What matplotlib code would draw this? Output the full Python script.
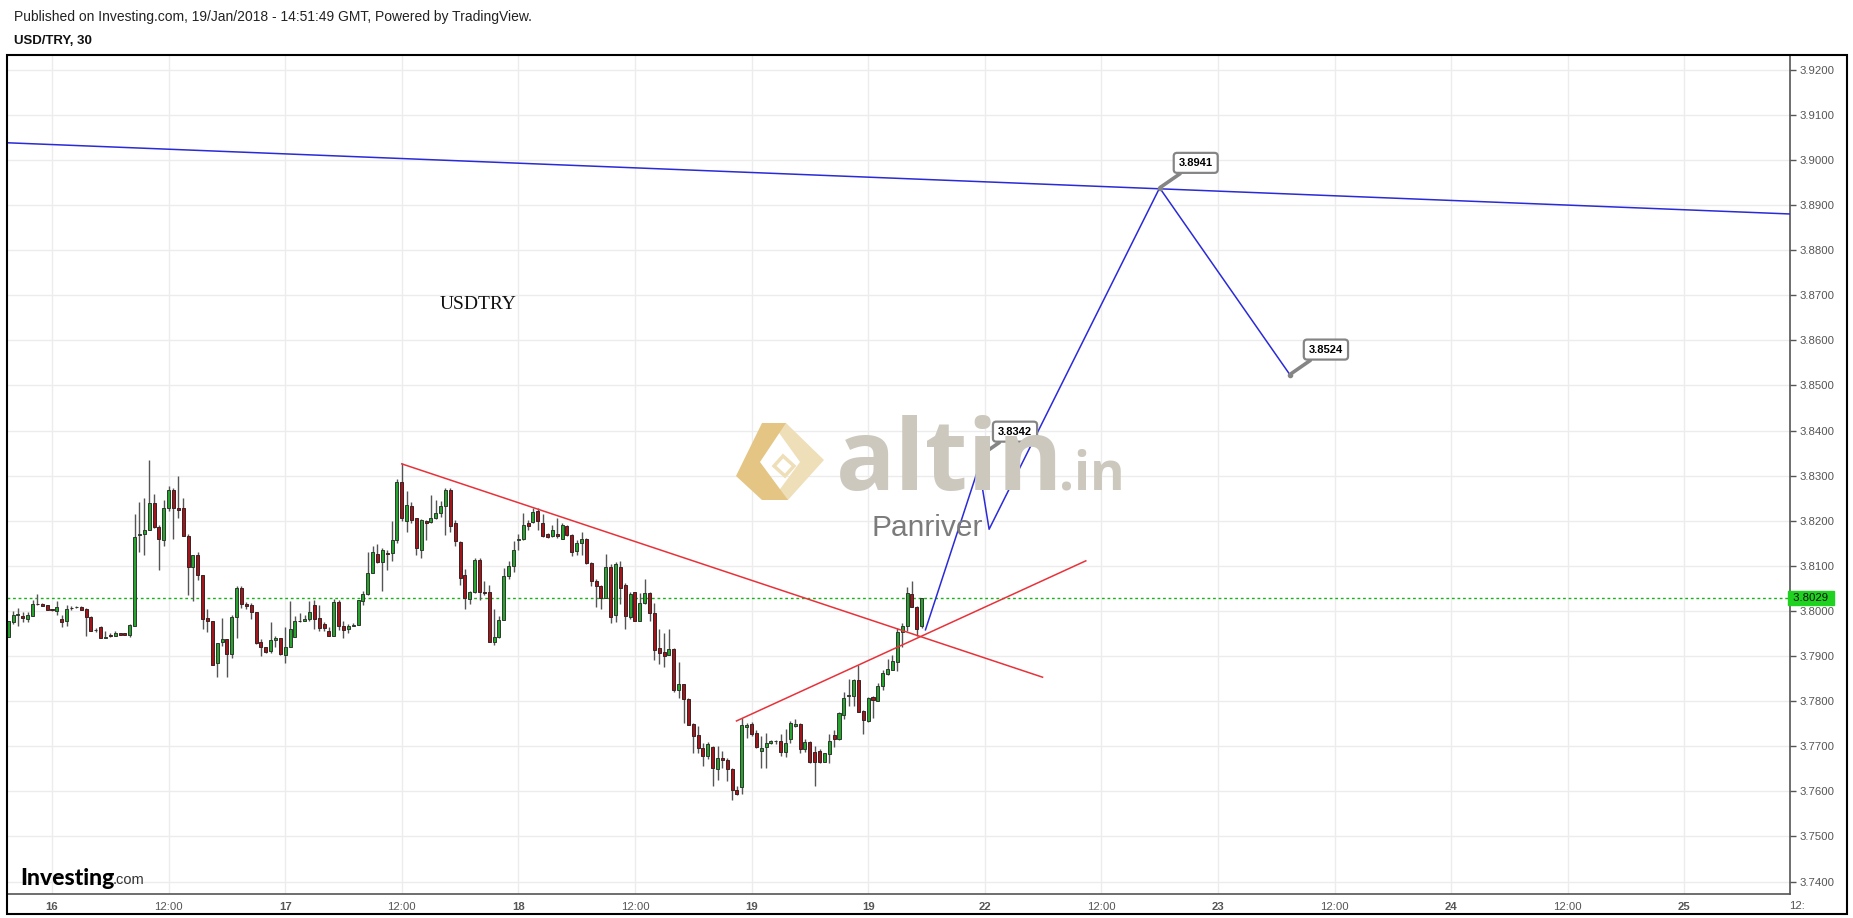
import matplotlib
matplotlib.use("Agg")
import matplotlib.pyplot as plt
from matplotlib.patches import Rectangle, Polygon
import numpy as np

W, H = 1853, 918

# ---------------- data ----------------
start_index = -9  # first bar (30-min bars, index 0 = Jan 16 00:00)
opens = [3.7942, 3.7975, 3.7991, 3.7988, 3.7983, 3.7988, 3.8016, 3.8015, 3.8013, 3.8004,
         3.7999, 3.7983, 3.7977, 3.8007, 3.8008, 3.8008, 3.8004, 3.7986, 3.7957, 3.7964,
         3.7941, 3.7946, 3.7944, 3.7951, 3.7951, 3.7946, 3.7966, 3.8168, 3.8171, 3.8180,
         3.8240, 3.8186, 3.8157, 3.8228, 3.8269, 3.8229, 3.8229, 3.8167, 3.8097, 3.8125,
         3.8080, 3.7984, 3.7977, 3.7885, 3.7931, 3.7938, 3.7905, 3.7987, 3.8051, 3.8016,
         3.8012, 3.7998, 3.7931, 3.7920, 3.7911, 3.7935, 3.7941, 3.7903, 3.7920, 3.7942,
         3.7978, 3.7977, 3.7981, 3.8014, 3.7984, 3.7970, 3.7956, 3.7944, 3.8020, 3.7967,
         3.7959, 3.7967, 3.7968, 3.8021, 3.8038, 3.8084, 3.8127, 3.8108, 3.8128, 3.8129,
         3.8158, 3.8286, 3.8199, 3.8233, 3.8206, 3.8136, 3.8200, 3.8197, 3.8206, 3.8217,
         3.8232, 3.8269, 3.8195, 3.8152, 3.8080, 3.8027, 3.8041, 3.8112, 3.8042, 3.8041,
         3.7931, 3.7942, 3.7980, 3.8078, 3.8100, 3.8158, 3.8160, 3.8194, 3.8197, 3.8221,
         3.8194, 3.8171, 3.8165, 3.8171, 3.8160, 3.8189, 3.8169, 3.8132, 3.8151, 3.8160,
         3.8106, 3.8067, 3.8055, 3.8029, 3.8097, 3.7992, 3.8097, 3.8057, 3.7987, 3.8042,
         3.7977, 3.8018, 3.8040, 3.7996, 3.7918, 3.7908, 3.7902, 3.7916, 3.7824, 3.7837,
         3.7805, 3.7749, 3.7724, 3.7696, 3.7678, 3.7699, 3.7650, 3.7674, 3.7669, 3.7650,
         3.7602, 3.7610, 3.7743, 3.7750, 3.7729, 3.7689, 3.7698, 3.7707, 3.7711, 3.7711,
         3.7687, 3.7715, 3.7744, 3.7750, 3.7694, 3.7710, 3.7687, 3.7689, 3.7664, 3.7683,
         3.7724, 3.7716, 3.7769, 3.7811, 3.7811, 3.7846, 3.7777, 3.7755, 3.7809, 3.7800,
         3.7833, 3.7861, 3.7868, 3.7886, 3.7953, 3.7966, 3.8038, 3.8009, 3.7967]
highs = [3.7978, 3.7999, 3.8007, 3.7997, 3.7997, 3.8024, 3.8038, 3.8018, 3.8014, 3.8005,
         3.8022, 3.7990, 3.8012, 3.8010, 3.8011, 3.8010, 3.8006, 3.7988, 3.7962, 3.7966,
         3.7956, 3.7950, 3.7955, 3.7952, 3.7952, 3.7972, 3.8214, 3.8242, 3.8250, 3.8335,
         3.8260, 3.8191, 3.8247, 3.8276, 3.8273, 3.8300, 3.8250, 3.8171, 3.8125, 3.8130,
         3.8080, 3.8004, 3.7977, 3.7929, 3.7984, 3.7938, 3.7990, 3.8056, 3.8056, 3.8019,
         3.8018, 3.7998, 3.7937, 3.7921, 3.7976, 3.7944, 3.7941, 3.7964, 3.8021, 3.7988,
         3.7995, 3.7992, 3.8021, 3.8025, 3.8012, 3.7975, 3.7964, 3.8027, 3.8025, 3.7978,
         3.7970, 3.7973, 3.8025, 3.8044, 3.8130, 3.8145, 3.8149, 3.8139, 3.8136, 3.8200,
         3.8293, 3.8327, 3.8265, 3.8242, 3.8206, 3.8204, 3.8202, 3.8256, 3.8247, 3.8243,
         3.8273, 3.8273, 3.8202, 3.8154, 3.8093, 3.8044, 3.8117, 3.8117, 3.8066, 3.8058,
         3.8004, 3.7988, 3.8095, 3.8110, 3.8154, 3.8171, 3.8216, 3.8202, 3.8228, 3.8228,
         3.8214, 3.8173, 3.8191, 3.8205, 3.8195, 3.8191, 3.8171, 3.8158, 3.8176, 3.8162,
         3.8108, 3.8070, 3.8058, 3.8127, 3.8103, 3.8108, 3.8110, 3.8062, 3.8041, 3.8042,
         3.8040, 3.8071, 3.8043, 3.8018, 3.7960, 3.7951, 3.7959, 3.7918, 3.7886, 3.7837,
         3.7807, 3.7751, 3.7744, 3.7706, 3.7710, 3.7701, 3.7700, 3.7689, 3.7674, 3.7652,
         3.7611, 3.7763, 3.7752, 3.7753, 3.7737, 3.7722, 3.7729, 3.7714, 3.7714, 3.7726,
         3.7738, 3.7755, 3.7760, 3.7752, 3.7715, 3.7711, 3.7701, 3.7694, 3.7685, 3.7726,
         3.7737, 3.7775, 3.7820, 3.7849, 3.7849, 3.7879, 3.7780, 3.7809, 3.7811, 3.7840,
         3.7870, 3.7893, 3.7903, 3.7962, 3.7973, 3.8053, 3.8066, 3.8011, 3.8029]
lows = [3.7942, 3.7972, 3.7966, 3.7975, 3.7975, 3.7988, 3.8013, 3.8010, 3.8001, 3.8000,
        3.7990, 3.7964, 3.7966, 3.8003, 3.8006, 3.8003, 3.7945, 3.7955, 3.7954, 3.7939,
        3.7939, 3.7942, 3.7944, 3.7946, 3.7946, 3.7942, 3.7966, 3.8130, 3.8123, 3.8180,
        3.8183, 3.8090, 3.8143, 3.8221, 3.8160, 3.8205, 3.8166, 3.8036, 3.8021, 3.8069,
        3.7959, 3.7953, 3.7879, 3.7853, 3.7923, 3.7853, 3.7896, 3.7940, 3.8007, 3.8004,
        3.7981, 3.7927, 3.7900, 3.7906, 3.7907, 3.7920, 3.7903, 3.7885, 3.7920, 3.7942,
        3.7975, 3.7977, 3.7977, 3.7960, 3.7955, 3.7955, 3.7944, 3.7944, 3.7957, 3.7939,
        3.7952, 3.7966, 3.7968, 3.8014, 3.8036, 3.8084, 3.8106, 3.8044, 3.8090, 3.8110,
        3.8151, 3.8199, 3.8174, 3.8195, 3.8123, 3.8117, 3.8158, 3.8195, 3.8204, 3.8208,
        3.8168, 3.8174, 3.8143, 3.8058, 3.8004, 3.8016, 3.8040, 3.8024, 3.8036, 3.7931,
        3.7925, 3.7939, 3.7980, 3.8071, 3.8086, 3.8136, 3.8158, 3.8180, 3.8195, 3.8180,
        3.8164, 3.8162, 3.8164, 3.8162, 3.8160, 3.8165, 3.8121, 3.8123, 3.8123, 3.8103,
        3.8055, 3.8008, 3.8004, 3.8029, 3.7973, 3.7975, 3.8015, 3.7960, 3.7981, 3.7977,
        3.7977, 3.8015, 3.7977, 3.7891, 3.7883, 3.7876, 3.7902, 3.7820, 3.7807, 3.7752,
        3.7748, 3.7684, 3.7685, 3.7656, 3.7672, 3.7611, 3.7625, 3.7652, 3.7622, 3.7580,
        3.7591, 3.7593, 3.7718, 3.7722, 3.7696, 3.7652, 3.7652, 3.7705, 3.7705, 3.7678,
        3.7676, 3.7706, 3.7742, 3.7685, 3.7687, 3.7662, 3.7611, 3.7662, 3.7664, 3.7663,
        3.7698, 3.7714, 3.7760, 3.7789, 3.7790, 3.7775, 3.7726, 3.7753, 3.7763, 3.7800,
        3.7824, 3.7858, 3.7868, 3.7866, 3.7920, 3.7955, 3.8009, 3.7945, 3.7962]
closes = [3.7977, 3.7992, 3.7993, 3.7984, 3.7990, 3.8016, 3.8015, 3.8011, 3.8001, 3.8001,
          3.8009, 3.7975, 3.8004, 3.8006, 3.8009, 3.8003, 3.7986, 3.7955, 3.7957, 3.7939,
          3.7942, 3.7944, 3.7952, 3.7946, 3.7946, 3.7969, 3.8164, 3.8171, 3.8180, 3.8240,
          3.8186, 3.8159, 3.8229, 3.8269, 3.8228, 3.8223, 3.8166, 3.8097, 3.8125, 3.8079,
          3.7982, 3.7977, 3.7881, 3.7929, 3.7938, 3.7905, 3.7987, 3.8051, 3.8015, 3.8010,
          3.7998, 3.7929, 3.7920, 3.7908, 3.7936, 3.7941, 3.7905, 3.7920, 3.7960, 3.7978,
          3.7977, 3.7983, 3.7998, 3.7983, 3.7961, 3.7962, 3.7944, 3.8020, 3.7966, 3.7957,
          3.7967, 3.7968, 3.8025, 3.8038, 3.8084, 3.8131, 3.8108, 3.8134, 3.8126, 3.8158,
          3.8286, 3.8206, 3.8235, 3.8201, 3.8139, 3.8202, 3.8195, 3.8206, 3.8217, 3.8233,
          3.8267, 3.8188, 3.8154, 3.8073, 3.8029, 3.8042, 3.8112, 3.8041, 3.8040, 3.7931,
          3.7942, 3.7980, 3.8078, 3.8100, 3.8134, 3.8160, 3.8191, 3.8188, 3.8219, 3.8199,
          3.8167, 3.8164, 3.8180, 3.8165, 3.8191, 3.8169, 3.8130, 3.8151, 3.8160, 3.8106,
          3.8066, 3.8055, 3.8029, 3.8097, 3.7986, 3.8103, 3.8051, 3.7988, 3.8038, 3.7977,
          3.8018, 3.8040, 3.7996, 3.7914, 3.7907, 3.7901, 3.7916, 3.7824, 3.7838, 3.7805,
          3.7748, 3.7722, 3.7696, 3.7678, 3.7705, 3.7652, 3.7674, 3.7669, 3.7650, 3.7602,
          3.7593, 3.7746, 3.7748, 3.7726, 3.7698, 3.7696, 3.7707, 3.7712, 3.7711, 3.7687,
          3.7706, 3.7752, 3.7750, 3.7694, 3.7710, 3.7664, 3.7664, 3.7664, 3.7685, 3.7712,
          3.7715, 3.7774, 3.7807, 3.7813, 3.7846, 3.7775, 3.7759, 3.7807, 3.7802, 3.7834,
          3.7862, 3.7871, 3.7888, 3.7953, 3.7966, 3.8040, 3.8009, 3.7960, 3.8029]

last_price = 3.8029

# x-axis tick labels (every 24 bars = 12 hours)
tick_labels = ['16', '12:00', '17', '12:00', '18', '12:00', '19', '19',
               '22', '12:00', '23', '12:00', '24', '12:00', '25']
cut_label = '12:'
price_ticks = [3.74, 3.75, 3.76, 3.77, 3.78, 3.79, 3.80, 3.81, 3.82, 3.83,
               3.84, 3.85, 3.86, 3.87, 3.88, 3.89, 3.90, 3.91, 3.92]

# drawings (bar index, price)
long_trend_x = [-9.26, 358.0]
long_trend_y = [3.9038, 3.8880]
down_trend_x = [72.0, 203.9]
down_trend_y = [3.8326, 3.7853]
up_trend_x = [140.9, 212.8]
up_trend_y = [3.7756, 3.8111]
path_x = [179.8, 190.8, 192.9, 228.0, 254.8]
path_y = [3.7958, 3.8320, 3.8181, 3.8938, 3.8524]
callout_x = [190.8, 228.0, 254.8]
callout_y = [3.8342, 3.8938, 3.8524]
callout_text = ['3.8342', '3.8941', '3.8524']

# ---------------- figure ----------------
fig = plt.figure(figsize=(W / 100, H / 100), dpi=100)
fig.patch.set_facecolor('white')

def fx(x):
    return x / W

def fy(y):
    return 1 - y / H

PX0, PXB = 52.0, 4.858          # pixel of bar 0, pixels per bar
ax_l, ax_r, ax_t, ax_b = 7, 1790, 55, 894
ax = fig.add_axes([fx(ax_l), fy(ax_b), (ax_r - ax_l) / W, (ax_b - ax_t) / H])
ax.set_facecolor('white')
ax.set_xlim((ax_l - PX0) / PXB, (ax_r - PX0) / PXB)
# y: 3.92 at pixel 69.7, 4510 px per unit
ax.set_ylim(3.92 - (ax_b - 69.7) / 4510, 3.92 + (69.7 - ax_t) / 4510)

# grid
for k in range(len(tick_labels)):
    ax.axvline(24 * k, color='#ececec', lw=1, zorder=0)
for p in price_ticks:
    ax.axhline(p, color='#ececec', lw=1, zorder=0)

# ---- watermark ----
def P(px, py):
    return (fx(px), fy(py))

icon_light = Polygon([P(786, 423), P(824, 460), P(788, 500), P(772, 500), P(800, 462), P(772, 423)],
                     closed=True, transform=fig.transFigure, facecolor='#eedfb9', edgecolor='none', zorder=1)
icon_dark = Polygon([P(762, 423), P(786, 423), P(760, 462), P(788, 500), P(762, 500), P(736, 476)],
                    closed=True, transform=fig.transFigure, facecolor='#e4c584', edgecolor='none', zorder=1)
icon_sq = Polygon([P(783, 456), P(794, 466), P(785, 476), P(774, 466)],
                  closed=True, transform=fig.transFigure, facecolor='white', edgecolor='#eedfb9',
                  lw=2.5, zorder=1)
fig.patches.extend([icon_light, icon_dark, icon_sq])
fig.text(fx(836), fy(490), 'altin', fontsize=71, fontweight='bold', family='Open Sans',
         color='#cdc8bd', ha='left', va='baseline', zorder=1)
fig.text(fx(1059), fy(490), '.in', fontsize=38, fontweight='bold', family='Open Sans',
         color='#cdc8bd', ha='left', va='baseline', zorder=1)
fig.text(fx(872), fy(536), 'Panriver', fontsize=21.5, family='Liberation Sans',
         color='#7b7b7b', ha='left', va='baseline', zorder=1)

# ---- candles ----
n = len(opens)
xs = np.arange(start_index, start_index + n)
o = np.array(opens); h = np.array(highs); l = np.array(lows); c = np.array(closes)
up = c >= o
ax.vlines(xs, l, h, color='#555555', lw=1.0, zorder=3)
body_bottom = np.minimum(o, c)
body_h = np.maximum(np.abs(c - o), 0.00008)
ax.bar(xs[up], body_h[up], bottom=body_bottom[up], width=0.62, color='#25a52d',
       edgecolor='#2d3a2d', linewidth=0.7, zorder=4)
ax.bar(xs[~up], body_h[~up], bottom=body_bottom[~up], width=0.62, color='#a3151a',
       edgecolor='#3a2222', linewidth=0.7, zorder=4)

# last price line
ax.axhline(last_price, color='#19b319', lw=1, ls=(0, (2, 2)), zorder=2)

# ---- drawings ----
ax.plot(long_trend_x, long_trend_y, color='#2a2ad8', lw=1.1, zorder=5)
ax.plot(down_trend_x, down_trend_y, color='#e8323a', lw=1.1, zorder=5)
ax.plot(up_trend_x, up_trend_y, color='#e8323a', lw=1.1, zorder=5)
ax.plot(path_x, path_y, color='#2a2ad8', lw=1.1, zorder=5)

for cx, cy, t in zip(callout_x, callout_y, callout_text):
    ax.annotate(t, xy=(cx, cy), xytext=(26, 18), textcoords='offset points',
                fontsize=8, fontweight='bold', family='Liberation Sans', color='black',
                ha='center', va='center', zorder=7,
                bbox=dict(boxstyle='round,pad=0.45,rounding_size=0.3', fc='white', ec='#858585', lw=1.6),
                arrowprops=dict(arrowstyle='-', color='#858585', lw=2.6, shrinkA=0, shrinkB=1))
    ax.plot([cx], [cy], 'o', color='#858585', ms=3, zorder=7)

# USDTRY label
ax.text(87.8, 3.8680, 'USDTRY', fontsize=14, family='Liberation Serif', color='#111111',
        ha='center', va='center', zorder=6)

# ---- axes styling ----
for s in ['top', 'left']:
    ax.spines[s].set_visible(False)
ax.spines['right'].set_color('#555555')
ax.spines['bottom'].set_color('#555555')
ax.spines['right'].set_linewidth(1.2)
ax.spines['bottom'].set_linewidth(1.2)

ax.yaxis.tick_right()
ax.set_yticks(price_ticks)
ax.set_yticklabels(['%.4f' % p for p in price_ticks])
ax.tick_params(axis='y', direction='out', length=4, width=1, color='#555555',
               labelsize=8.2, labelcolor='#555555', pad=3)
for lbl in ax.get_yticklabels():
    lbl.set_family('Liberation Sans')

ax.set_xticks([24 * k for k in range(len(tick_labels))])
ax.set_xticklabels(tick_labels)
ax.tick_params(axis='x', direction='out', length=0, labelsize=8.2, labelcolor='#555555', pad=6)
for lbl in ax.get_xticklabels():
    lbl.set_family('Liberation Sans')
    if ':' not in lbl.get_text():
        lbl.set_fontweight('bold')
# partially hidden last time label
fig.text(fx(1797), fy(906), cut_label, fontsize=8.2, family='Liberation Sans', color='#555555',
         ha='center', va='center')

# last price badge on right axis
ax.text(1.0, last_price, ' 3.8029 ', transform=ax.get_yaxis_transform(), fontsize=8.2,
        family='Liberation Sans', color='#111111', ha='left', va='center', zorder=8,
        bbox=dict(boxstyle='square,pad=0.2', fc='#1fd21f', ec='#1fd21f'), clip_on=False)

# outer frame
fig.patches.append(Rectangle((fx(7), fy(914)), (1847 - 7) / W, (914 - ax_t) / H, fill=False,
                             ec='black', lw=1.5, transform=fig.transFigure, zorder=10))

# header texts
fig.text(fx(14), fy(17), 'Published on Investing.com, 19/Jan/2018 - 14:51:49 GMT, Powered by TradingView.',
         fontsize=10, family='Liberation Sans', color='#222222', ha='left', va='center')
fig.text(fx(14), fy(41), 'USD/TRY, 30', fontsize=9.5, fontweight='bold', family='Liberation Sans',
         color='#111111', ha='left', va='center')

# investing.com logo
fig.text(fx(20), fy(885), 'Investing', fontsize=16.5, fontweight='black', family='Lato',
         color='black', ha='left', va='baseline', zorder=9)
fig.text(fx(113), fy(884), '.com', fontsize=10.5, family='Liberation Sans',
         color='#333333', ha='left', va='baseline', zorder=9)

fig.savefig('out.png', dpi=100, facecolor='white')
